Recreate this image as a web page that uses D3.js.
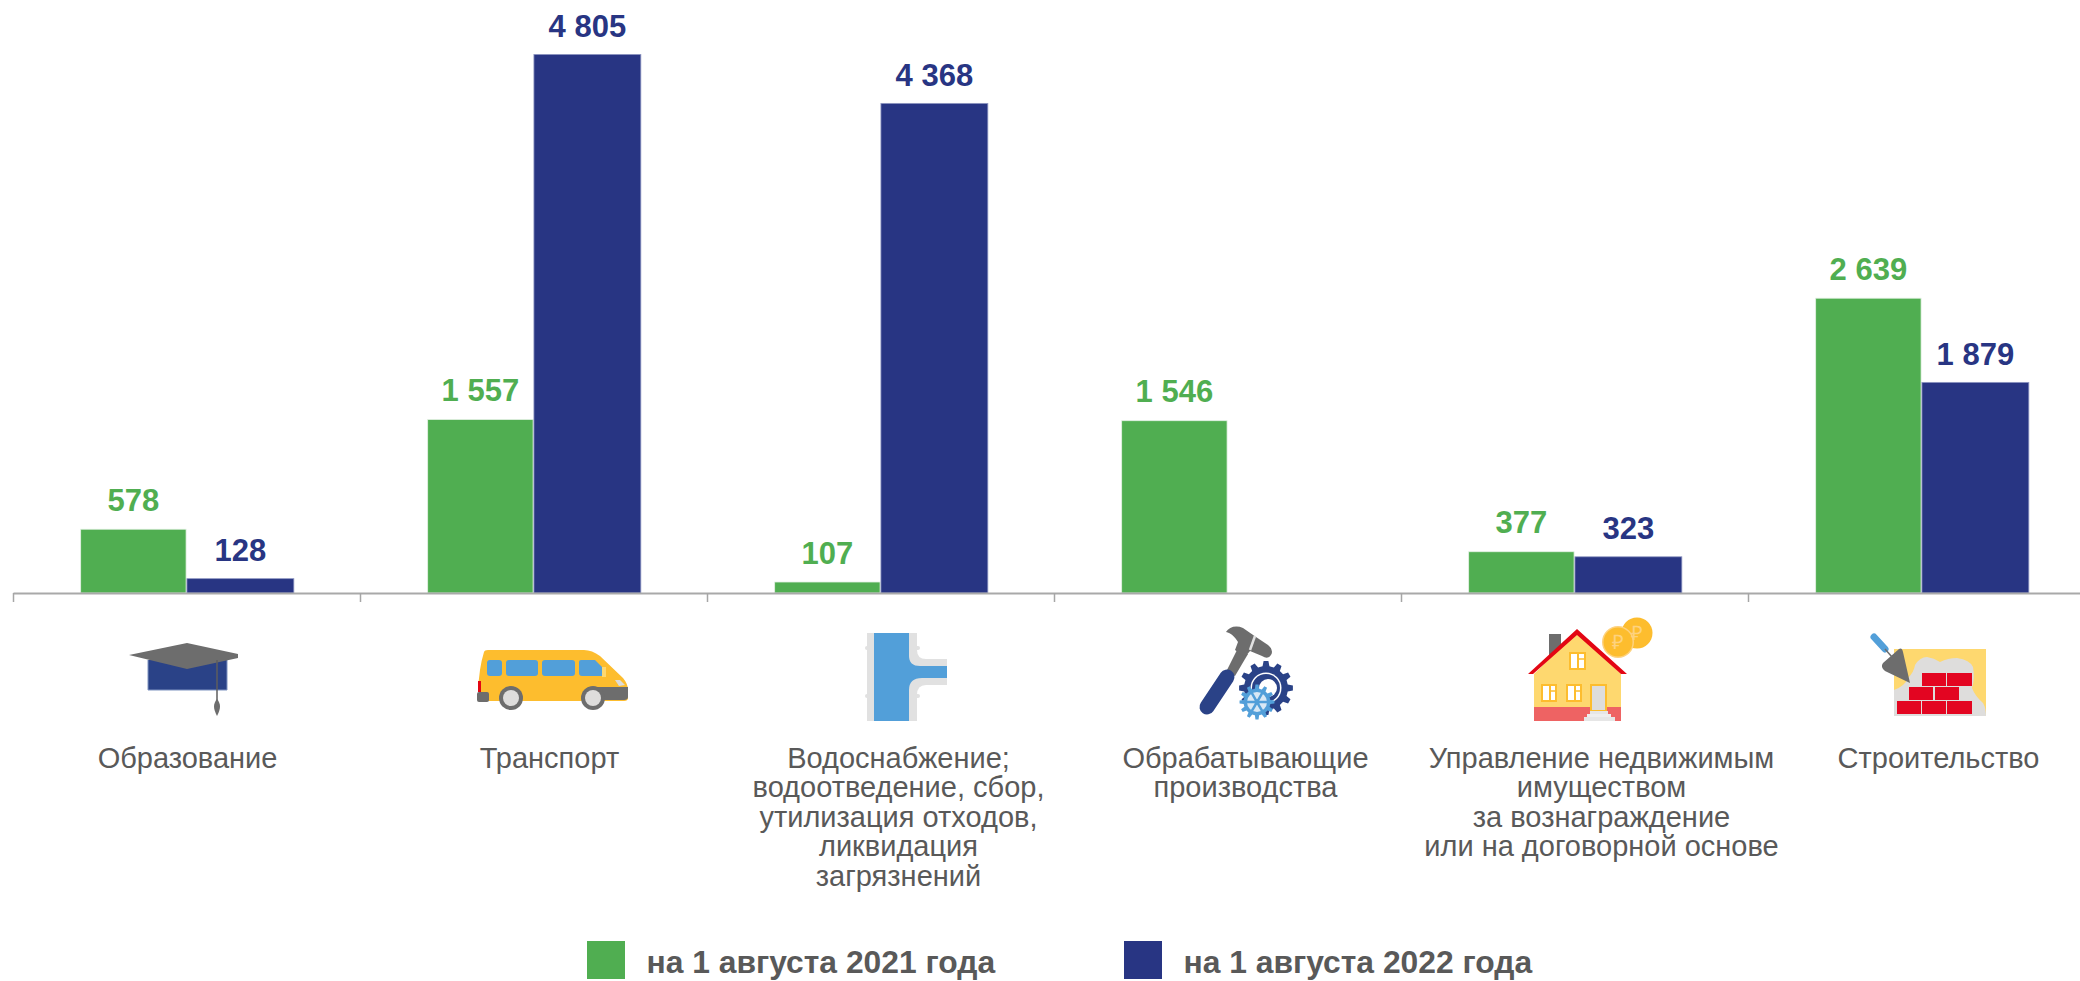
<!DOCTYPE html>
<html>
<head>
<meta charset="utf-8">
<script src="https://cdn.jsdelivr.net/npm/d3@7"></script>
<style>
  html, body { margin: 0; padding: 0; background: #fff; overflow: hidden; }
  text { font-family: "Liberation Sans", Arial, sans-serif; }
</style>
</head>
<body>
<div id="chart"></div>
<script>
const categories = [
  "Образование",
  "Транспорт",
  "Водоснабжение",
  "Обрабатывающие",
  "Управление",
  "Строительство",
];
const categoryLines = [
  ["Образование"],
  ["Транспорт"],
  ["Водоснабжение;", "водоотведение, сбор,", "утилизация отходов,", "ликвидация", "загрязнений"],
  ["Обрабатывающие", "производства"],
  ["Управление недвижимым", "имуществом", "за вознаграждение", "или на договорной основе"],
  ["Строительство"],
];
const values2021 = [578, 1557, 107, 1546, 377, 2639];
const values2022 = [128, 4805, 4368, null, 323, 1879];
const seriesNames = ["на 1 августа 2021 года", "на 1 августа 2022 года"];

const green = "#50ae51";
const navy = "#283583";
const textGray = "#595959";

const width = 2080;
const height = 981;
const axisY = 593;

const svg = d3
  .select("#chart")
  .append("svg")
  .attr("width", width)
  .attr("height", height)
  .style("display", "block");

// band edges, the last one falls just off the page
const edges = d3.scaleLinear().domain([0, 6]).range([13, 2095]);

const x = d3
  .scaleBand()
  .domain(categories)
  .range([13, 2095])
  .paddingInner(0.39)
  .paddingOuter(0.195);

const xSeries = d3.scaleBand().domain([0, 1]).range([0, x.bandwidth()]).paddingInner(0.008);

const y = d3.scaleLinear().domain([0, 4805]).range([axisY, 54.4]);

const fmt = d3.formatLocale({ decimal: ",", thousands: " ", grouping: [3], currency: ["", ""] }).format(",d");

// labels do not sit quite centered under their bands in the original
const labelShift = [1, 16, 18, 18, 27, 17];

// bars, the green ones start a pixel lower and the navy ones are a bit wider
const series = [
  { values: values2021, color: green, edge: "#e4f1e4", inset: 1, extra: 0 },
  { values: values2022, color: navy, edge: "#8f97c2", inset: 0, extra: 1.5 },
];

series.forEach(function (s, si) {
  const g = svg.append("g");
  const rows = categories
    .map(function (c, i) {
      return { c: c, v: s.values[i] };
    })
    .filter(function (d) {
      return d.v !== null;
    });

  g.selectAll("rect")
    .data(rows)
    .enter()
    .append("rect")
    .attr("x", (d) => x(d.c) + xSeries(si))
    .attr("y", (d) => y(d.v) + s.inset)
    .attr("width", xSeries.bandwidth() + s.extra)
    .attr("height", (d) => axisY - y(d.v) - s.inset)
    .attr("fill", s.color)
    .attr("stroke", s.edge)
    .attr("stroke-width", 0.8);

  g.selectAll("text")
    .data(rows)
    .enter()
    .append("text")
    .attr("x", (d) => x(d.c) + xSeries(si) + (xSeries.bandwidth() + s.extra) / 2)
    .attr("y", (d) => y(d.v) - 17.5)
    .attr("text-anchor", "middle")
    .attr("font-size", 31)
    .attr("font-weight", "bold")
    .attr("fill", s.color)
    .text((d) => fmt(d.v));
});

// axis with ticks on the band edges
const axis = svg
  .append("g")
  .attr("transform", `translate(0,${axisY})`)
  .call(d3.axisBottom(edges).tickValues(d3.range(7)).tickSizeOuter(0).tickSizeInner(9).tickFormat(""));
axis.select(".domain").attr("stroke", "#a9a9a9").attr("stroke-width", 2);
axis.selectAll(".tick line").attr("stroke", "#a6a6a6").attr("stroke-width", 1.5);

// category labels
categories.forEach(function (c, i) {
  const t = svg
    .append("text")
    .attr("text-anchor", "middle")
    .attr("font-size", 29)
    .attr("fill", textGray);
  t.selectAll("tspan")
    .data(categoryLines[i])
    .enter()
    .append("tspan")
    .attr("x", x(c) + x.bandwidth() / 2 + labelShift[i])
    .attr("y", (d, k) => 768 + k * 29.4)
    .text((d) => d);
});

// legend
const legendX = [587, 1124];
seriesNames.forEach(function (name, i) {
  svg
    .append("rect")
    .attr("x", legendX[i])
    .attr("y", 941)
    .attr("width", 38)
    .attr("height", 38)
    .attr("fill", series[i].color);
  svg
    .append("text")
    .attr("x", legendX[i] + 59.5)
    .attr("y", 973)
    .attr("font-size", 31.8)
    .attr("font-weight", "bold")
    .attr("fill", textGray)
    .text(name);
});

// icons
function poly(g, pts, fill) {
  g.append("path").attr("d", d3.line()(pts) + "Z").attr("fill", fill);
}
function box(g, x0, y0, x1, y1, fill, rx) {
  g.append("rect")
    .attr("x", x0)
    .attr("y", y0)
    .attr("width", x1 - x0)
    .attr("height", y1 - y0)
    .attr("rx", rx || 0)
    .attr("fill", fill);
}
function circle(g, cx, cy, r, fill) {
  g.append("circle").attr("cx", cx).attr("cy", cy).attr("r", r).attr("fill", fill);
}
function gear(g, cx, cy, rOut, rIn, teeth, fill) {
  const pts = [];
  const step = (Math.PI * 2) / teeth;
  for (let i = 0; i < teeth; i++) {
    const a = i * step;
    [
      [a - step * 0.3, rIn],
      [a - step * 0.17, rOut],
      [a + step * 0.17, rOut],
      [a + step * 0.3, rIn],
    ].forEach((p) => pts.push([cx + Math.cos(p[0]) * p[1], cy + Math.sin(p[0]) * p[1]]));
  }
  poly(g, pts, fill);
}

const icons = svg.append("g");

// graduation cap
const cap = icons.append("g");
box(cap, 148, 660, 227, 690, "#2a4287");
cap.append("path").attr("d", "M148,660V690H227V660").attr("fill", "none").attr("stroke", "#7f93c0").attr("stroke-width", 1);
poly(cap, [[129, 655], [187, 643], [238, 654], [238, 658], [187, 669]], "#6d6d6d");
cap.append("line").attr("x1", 217).attr("x2", 217).attr("y1", 660).attr("y2", 702).attr("stroke", "#5e5e5e").attr("stroke-width", 1.5);
cap.append("path").attr("d", "M217,699C221,704 221,708 217,716C213,708 213,704 217,699Z").attr("fill", "#6d6d6d");

// bus
const bus = icons.append("g");
bus.append("path").attr("d", "M484,652Q484.500,650 488,650H584Q592,650 600,656L623,678Q628,684 628,690V698Q628,701 624,701H482V692H478Q479,668 484,652Z").attr("fill", "#fdbd2e");
bus.append("path").attr("d", "M588,687H628V697Q628,700 624,700H582Z").attr("fill", "#6d6d6d");
box(bus, 477, 692, 489, 702, "#6d6d6d", 2);
box(bus, 478, 681, 481, 692, "#e30613");
box(bus, 487, 660, 502, 676, "#529fd9", 3);
box(bus, 506, 660, 538, 676, "#529fd9", 3);
box(bus, 542, 660, 575, 676, "#529fd9", 3);
bus.append("path").attr("d", "M581,660H595L602,667V676H582Q579,676 579,673V662Q579,660 581,660Z").attr("fill", "#529fd9");
box(bus, 602, 667, 606, 677, "#fed86f");
poly(bus, [[615, 680], [620, 680], [625, 685], [619, 686]], "#dcdcdc");
circle(bus, 511, 698, 12, "#6d6d6d");
circle(bus, 511, 698, 8, "#dedddc");
circle(bus, 593, 698, 12, "#6d6d6d");
circle(bus, 593, 698, 8, "#dedddc");

// pipe
const pipe = icons.append("g");
pipe.append("path").attr("d", "M867,633H917V650Q917,659 926,659H947V685H926Q917,685 917,695V721H867Z").attr("fill", "#e1e1e1");
box(pipe, 865, 646, 870, 650, "#e1e1e1", 2);
box(pipe, 865, 694, 870, 698, "#e1e1e1", 2);
box(pipe, 915, 646, 920, 650, "#e1e1e1", 2);
box(pipe, 915, 694, 920, 698, "#e1e1e1", 2);
pipe.append("path").attr("d", "M874,633H909V656Q909,666 920,666H947V678H922Q909,678 909,690V721H874Z").attr("fill", "#529fd9");

// hammer and gears
const tool = icons.append("g");
tool.append("path").attr("d", "M1237,650L1248,654L1235,676L1226,672Z").attr("fill", "#6d6d6d");
tool.append("path").attr("d", "M1226,632C1229,627 1236,625 1243,628L1256,637L1268,645Q1274,650 1271,655Q1268,660 1262,656L1250,651L1245,657L1235,650L1238,642C1235,637 1231,633 1226,632Z").attr("fill", "#6d6d6d");
tool.append("line").attr("x1", 1255).attr("y1", 636).attr("x2", 1250).attr("y2", 650).attr("stroke", "#e1e1e1").attr("stroke-width", 2.5);
tool.append("line").attr("x1", 1207).attr("y1", 707).attr("x2", 1227).attr("y2", 677).attr("stroke", "#2a4287").attr("stroke-width", 15).attr("stroke-linecap", "round");
gear(tool, 1266, 688, 27, 22, 12, "#2a4287");
circle(tool, 1266, 688, 15.5, "#fff");
circle(tool, 1266, 688, 14, "#2a4287");
circle(tool, 1268, 688, 9, "#fff");
gear(tool, 1257, 702, 17.5, 13.5, 12, "#529fd9");
circle(tool, 1257, 702, 10, "#d8e8f5");
circle(tool, 1257, 702, 2.5, "#2a4287");
d3.range(6).forEach(function (i) {
  const a = (i * Math.PI) / 3;
  tool.append("line")
    .attr("x1", 1257).attr("y1", 702)
    .attr("x2", 1257 + Math.cos(a) * 12).attr("y2", 702 + Math.sin(a) * 12)
    .attr("stroke", "#529fd9").attr("stroke-width", 2.5);
});

// house and coins
const house = icons.append("g");
circle(house, 1637, 633, 15.5, "#fdbd2e");
circle(house, 1618, 642, 16, "#fed27e");
circle(house, 1618, 642, 14.5, "#fdbd2e");
house.append("text").attr("x", 1618).attr("y", 649).attr("text-anchor", "middle").attr("font-size", 20).attr("fill", "#fed27e").text("₽");
house.append("text").attr("x", 1637).attr("y", 640).attr("text-anchor", "middle").attr("font-size", 20).attr("fill", "#fed27e").text("₽");
box(house, 1549, 634, 1561, 655, "#6d6d6d");
poly(house, [[1534, 674], [1577, 632], [1621, 674], [1621, 721], [1534, 721]], "#fed86f");
box(house, 1534, 707, 1621, 721, "#ee6363");
poly(house, [[1577, 629], [1627, 674], [1621, 674], [1577, 635], [1533, 674], [1528, 674]], "#e30613");
[[1569, 652, 1586, 670], [1541, 684, 1557, 702], [1566, 684, 1582, 702]].forEach(function (w) {
  box(house, w[0], w[1], w[2], w[3], "#fdbd2e");
  box(house, w[0] + 2, w[1] + 2, w[2] - 2, w[3] - 2, "#fff");
  house.append("line").attr("x1", w[0] + 9).attr("x2", w[0] + 9).attr("y1", w[1] + 2).attr("y2", w[3] - 2).attr("stroke", "#fdbd2e").attr("stroke-width", 2);
  house.append("line").attr("x1", w[0] + 9).attr("x2", w[2] - 2).attr("y1", w[1] + 7).attr("y2", w[1] + 7).attr("stroke", "#fdbd2e").attr("stroke-width", 1.5);
});
box(house, 1590, 684, 1607, 711, "#fdbd2e");
box(house, 1592, 686, 1605, 710, "#dedddc");
box(house, 1590, 711, 1608, 714, "#e6e6e6");
box(house, 1587, 714, 1611, 717, "#eeeeee");
box(house, 1584, 717, 1615, 721, "#e6e6e6");

// bricks and trowel
const wall = icons.append("g");
box(wall, 1894, 649, 1986, 716, "#fed86f");
wall.append("path").attr("d", "M1894,716V690Q1905,686 1908,678Q1914,672 1915,665Q1920,657 1927,657Q1934,658 1940,662Q1948,658 1957,658Q1970,660 1973,667Q1975,678 1972,688Q1975,696 1983,703Q1986,708 1986,716Z").attr("fill", "#dedddc");
[
  [1922, 673, 1946, 686], [1947, 673, 1972, 686],
  [1909, 687, 1933, 700], [1935, 687, 1959, 700],
  [1897, 701, 1921, 714], [1922, 701, 1946, 714], [1947, 701, 1972, 714],
].forEach(function (b) {
  box(wall, b[0], b[1], b[2], b[3], "#e30521");
});
wall.append("line").attr("x1", 1874).attr("y1", 637).attr("x2", 1885).attr("y2", 649).attr("stroke", "#529fd9").attr("stroke-width", 7).attr("stroke-linecap", "round");
wall.append("line").attr("x1", 1885).attr("y1", 649).attr("x2", 1892).attr("y2", 657).attr("stroke", "#6d6d6d").attr("stroke-width", 1.5);
wall.append("path").attr("d", "M1899,649Q1902,647 1903,652L1910,683L1885,671Q1880,667 1883,663Z").attr("fill", "#6d6d6d");
</script>
</body>
</html>
